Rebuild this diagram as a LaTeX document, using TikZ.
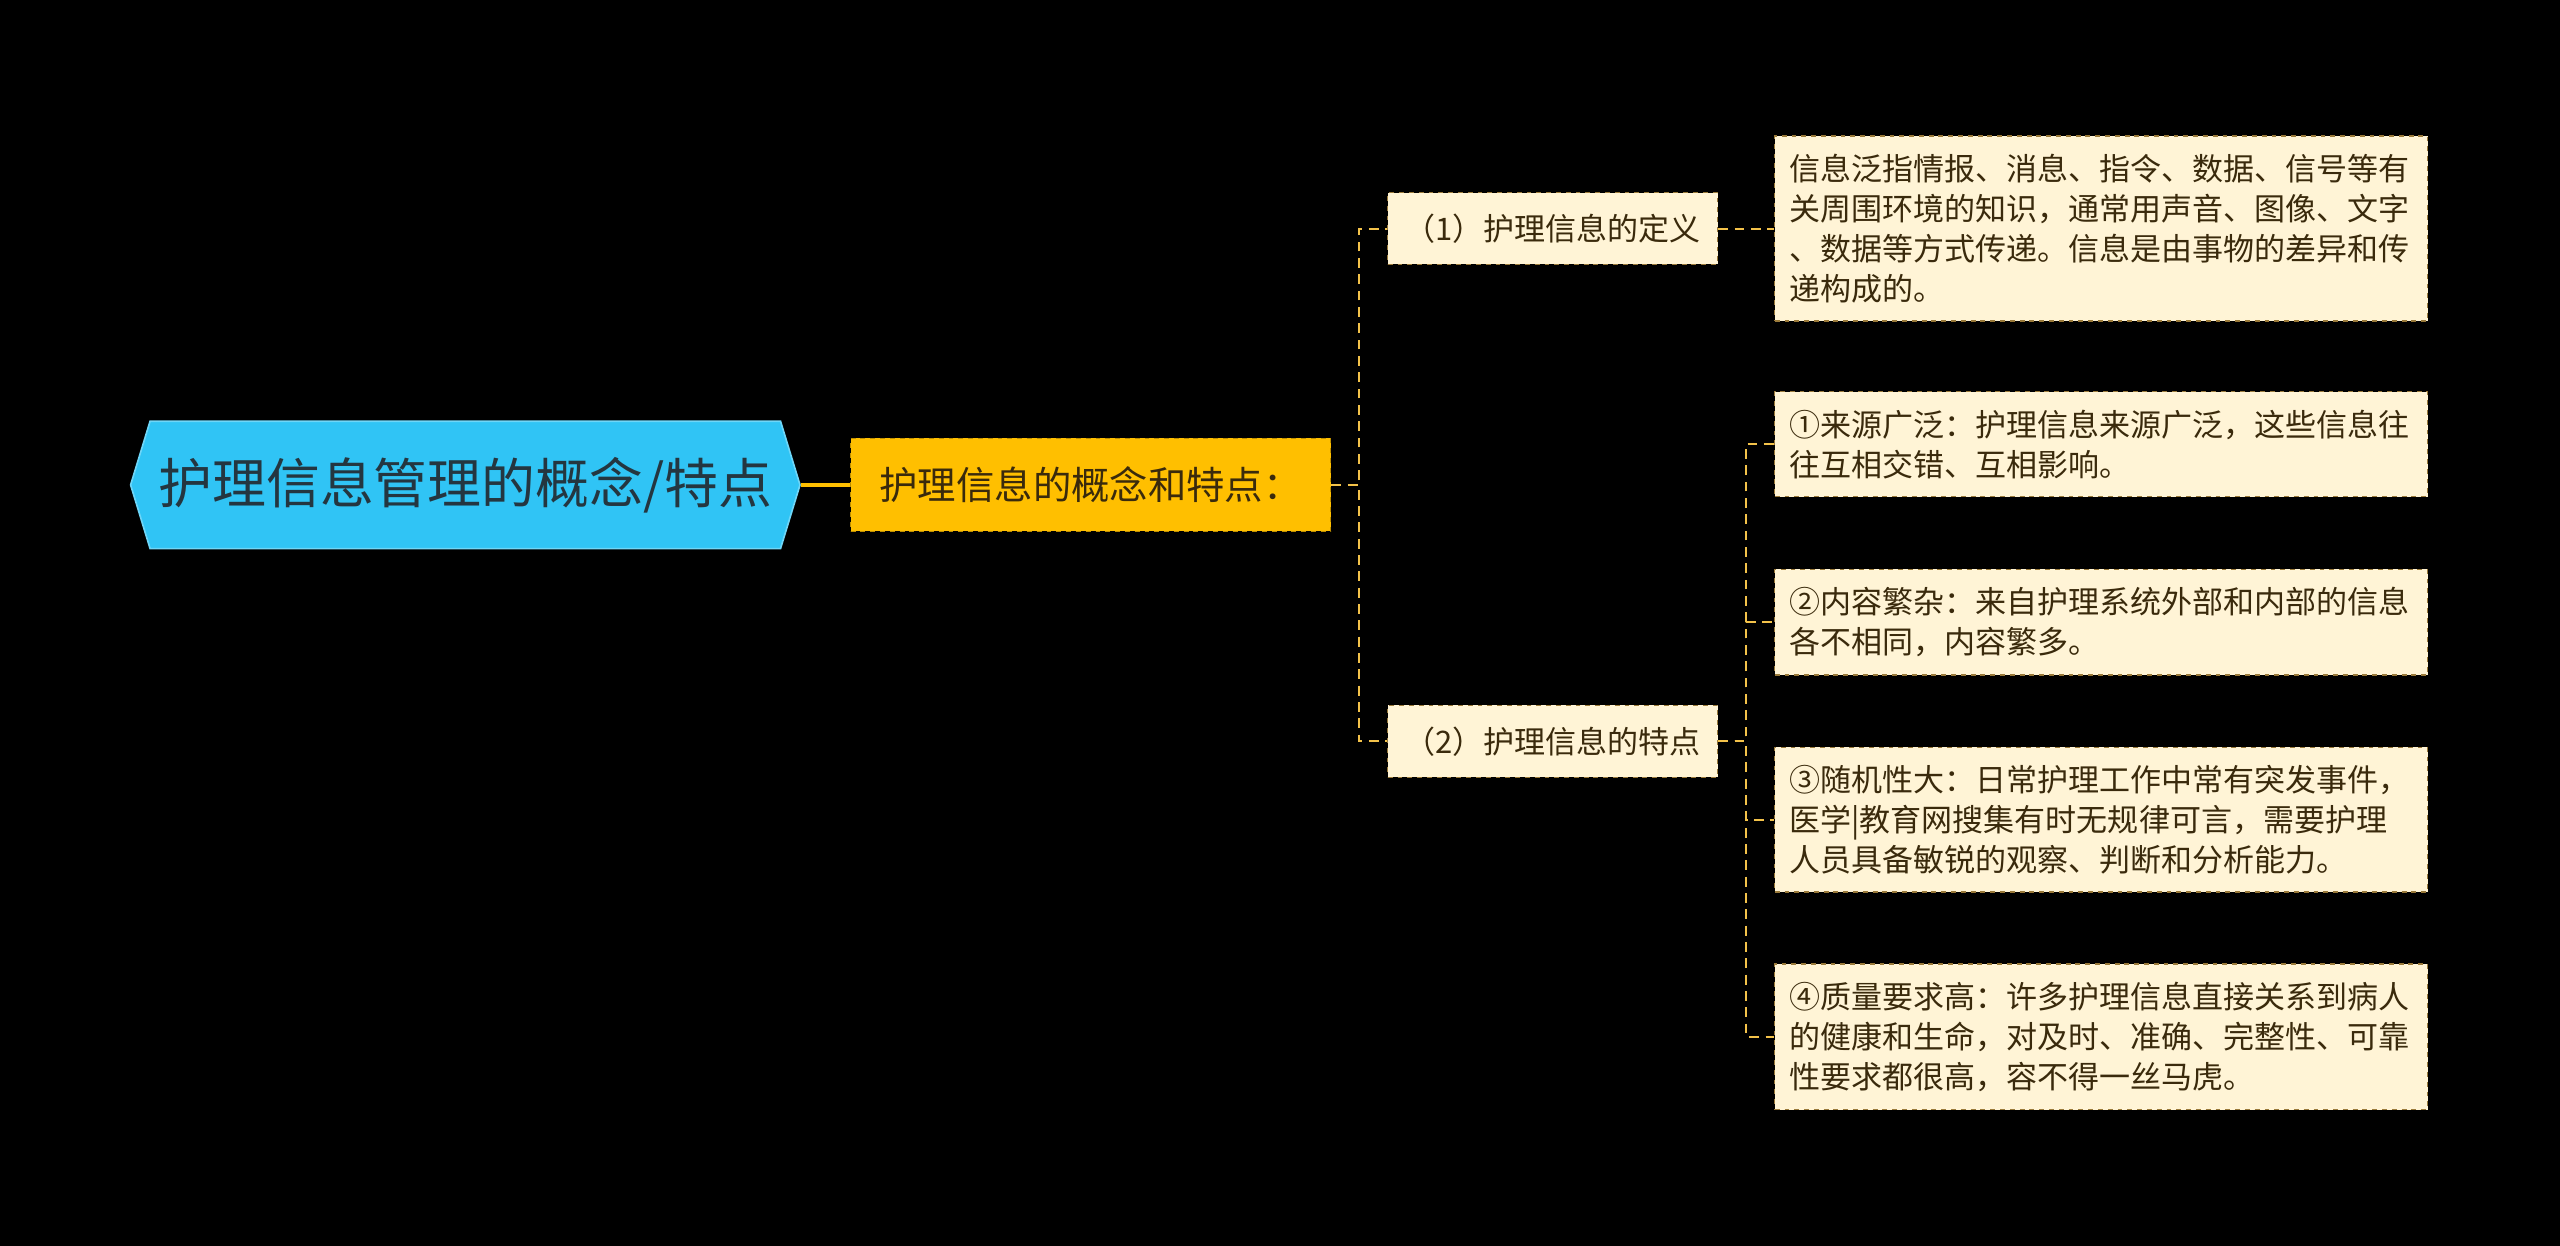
\documentclass[tikz,border=0pt]{standalone}
\usepackage{fontspec}
\setmainfont{Noto Sans CJK SC}
\usetikzlibrary{shapes.symbols}

\definecolor{rootblue}{HTML}{30C4F5}
\definecolor{roottext}{HTML}{243640}
\definecolor{mainyellow}{HTML}{FFBF00}
\definecolor{leafcream}{HTML}{FFF4D6}
\definecolor{leafedge}{HTML}{9A7A3A}
\definecolor{leaftext}{HTML}{3A2A0C}
\definecolor{linkyellow}{HTML}{F3C24A}

\tikzset{
	rootbox/.style={signal, signal to=west and east, signal pointer angle=146,
		fill=rootblue, draw=rootblue!70!white, line width=1pt, text=roottext,
		font=\fontsize{33}{38}\selectfont, minimum width=410, minimum height=78, inner xsep=4pt},
	mainbox/.style={rectangle, fill=mainyellow, draw=mainyellow!75!black, dashed, line width=1pt,
		text=leaftext, font=\fontsize{23.5}{28}\selectfont, minimum width=294, minimum height=57},
	subbox/.style={rectangle, fill=leafcream, draw=leafedge, dashed, line width=0.8pt,
		text=leaftext, font=\fontsize{19}{23}\selectfont, minimum width=202, minimum height=44},
	leafbox/.style={rectangle, fill=leafcream, draw=leafedge, dashed, line width=0.8pt,
		text=leaftext, font=\fontsize{19}{24.5}\selectfont, text width=382, align=left,
		inner xsep=9, inner ysep=11},
	link/.style={draw=linkyellow, line width=1.3pt, dash pattern=on 6pt off 4pt},
}

\begin{document}
\begin{tikzpicture}[x=1pt,y=-1pt]

	\fill[black] (0,0) rectangle (1568,763);
	\useasboundingbox (0,0) rectangle (1568,763);

	% root and first level
	\node[rootbox] (root) at (285,297) {护理信息管理的概念/特点};
	\node[mainbox] (main) at (668,297) {护理信息的概念和特点：};

	% second level
	\node[subbox] (def) at (951,140) {（1）护理信息的定义};
	\node[subbox] (feat) at (951,454) {（2）护理信息的特点};

	% leaves
	\node[leafbox] (deftext) at (1287,140) {信息泛指情报、消息、指令、数据、信号等有\\关周围环境的知识，通常用声音、图像、文字\\、数据等方式传递。信息是由事物的差异和传\\递构成的。};

	\node[leafbox] (srcwide) at (1287,272) {①来源广泛：护理信息来源广泛，这些信息往\\往互相交错、互相影响。};
	\node[leafbox] (complex) at (1287,381) {②内容繁杂：来自护理系统外部和内部的信息\\各不相同，内容繁多。};
	\node[leafbox] (random) at (1287,502) {③随机性大：日常护理工作中常有突发事件，\\医学|教育网搜集有时无规律可言，需要护理\\人员具备敏锐的观察、判断和分析能力。};
	\node[leafbox] (quality) at (1287,635) {④质量要求高：许多护理信息直接关系到病人\\的健康和生命，对及时、准确、完整性、可靠\\性要求都很高，容不得一丝马虎。};

	% connectors
	\draw[draw=mainyellow, line width=2pt] (root.east) -- (main.west);

	\draw[link] (main.east) -- ++(17,0) |- (def.west);
	\draw[link] (main.east) -- ++(17,0) |- (feat.west);

	\draw[link] (def.east) -- (deftext.west);

	\draw[link] (feat.east) -- ++(17,0) |- (srcwide.west);
	\draw[link] (feat.east) -- ++(17,0) |- (complex.west);
	\draw[link] (feat.east) -- ++(17,0) |- (random.west);
	\draw[link] (feat.east) -- ++(17,0) |- (quality.west);

\end{tikzpicture}
\end{document}
